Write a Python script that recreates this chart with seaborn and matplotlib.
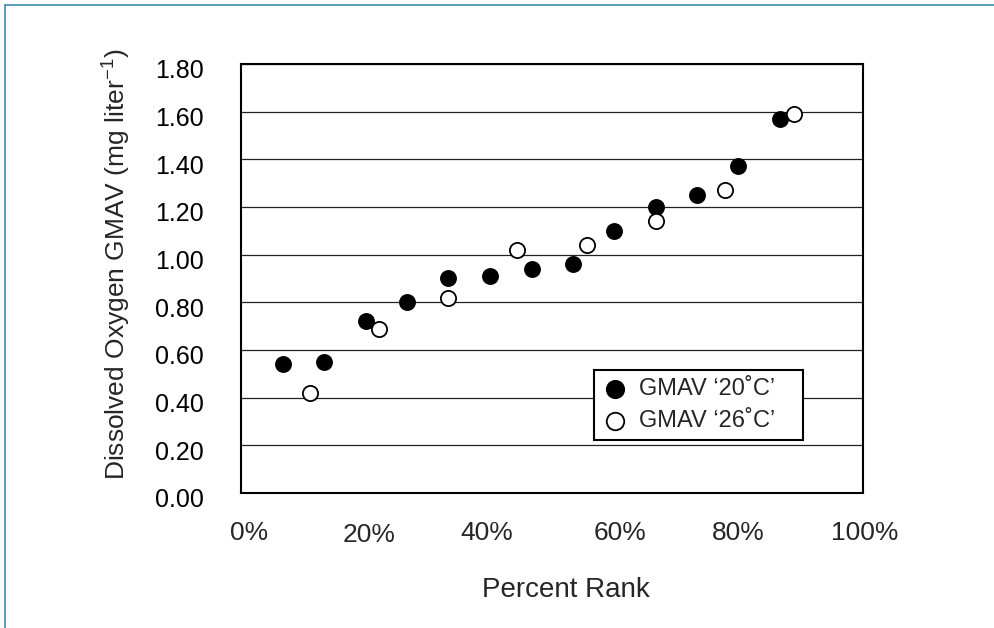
import matplotlib
matplotlib.use("Agg")
import matplotlib.pyplot as plt
import matplotlib.transforms as mtransforms
from matplotlib.lines import Line2D
import seaborn as sns
import pandas as pd

# percent rank (x) and GMAV (y)
rank_20 = [0.067, 0.133, 0.200, 0.267, 0.333, 0.400, 0.467, 0.533, 0.600, 0.667, 0.733, 0.800, 0.867]
gmav_20 = [0.54, 0.55, 0.72, 0.80, 0.90, 0.91, 0.94, 0.96, 1.10, 1.20, 1.25, 1.37, 1.57]
rank_26 = [0.111, 0.222, 0.333, 0.444, 0.556, 0.667, 0.778, 0.889]
gmav_26 = [0.42, 0.69, 0.82, 1.02, 1.04, 1.14, 1.27, 1.59]

label_20 = "GMAV \u201820\u02daC\u2019"
label_26 = "GMAV \u201826\u02daC\u2019"

x_ticks = [0.0, 0.2, 0.4, 0.6, 0.8, 1.0]
x_ticklabels = ["0%", "20%", "40%", "60%", "80%", "100%"]
y_ticks = [0.0, 0.2, 0.4, 0.6, 0.8, 1.0, 1.2, 1.4, 1.6, 1.8]

sns.set_style("white")
plt.rcParams["font.family"] = ["Liberation Sans", "DejaVu Sans"]
plt.rcParams["mathtext.fontset"] = "custom"
plt.rcParams["mathtext.rm"] = "Liberation Sans"
plt.rcParams["mathtext.it"] = "Liberation Sans:italic"

df20 = pd.DataFrame({"rank": rank_20, "gmav": gmav_20})
df26 = pd.DataFrame({"rank": rank_26, "gmav": gmav_26})

fig = plt.figure(figsize=(9.95, 6.28), dpi=100)
ax = fig.add_axes([0.2426, 0.215, 0.6244, 0.6831])

ax.grid(axis="y", color="#222222", lw=0.9)
ax.set_axisbelow(True)

sns.scatterplot(data=df20, x="rank", y="gmav", ax=ax, color="black",
                edgecolor="black", s=120, linewidth=1.2, label=label_20, zorder=3)
sns.scatterplot(data=df26, x="rank", y="gmav", ax=ax, color="white",
                edgecolor="black", s=120, linewidth=1.3, label=label_26, zorder=3)

ax.set_xlim(0, 1)
ax.set_ylim(0, 1.8)
ax.set_xticks(x_ticks)
ax.set_xticklabels(x_ticklabels, fontsize=19)
ax.set_yticks(y_ticks)
ax.set_yticklabels([f"{v:.2f}" for v in y_ticks], fontsize=18)

ax.tick_params(axis="x", length=0, pad=20)
ax.tick_params(axis="y", length=2.5, width=1, direction="out", pad=24.5, colors="black")

for sp in ax.spines.values():
    sp.set_visible(True)
    sp.set_color("black")
    sp.set_linewidth(1.5)

# nudge tick labels like the original
for lab in ax.get_yticklabels():
    lab.set_transform(lab.get_transform() + mtransforms.ScaledTranslation(0, -0.05, fig.dpi_scale_trans))
x_nudge = [(0.08, 0), (0.03, -0.02), (-0.03, 0), (0.06, 0), (0, 0), (0.02, 0)]
for lab, (dx, dy) in zip(ax.get_xticklabels(), x_nudge):
    lab.set_transform(lab.get_transform() + mtransforms.ScaledTranslation(dx, dy, fig.dpi_scale_trans))

ax.set_xlabel("Percent Rank", fontsize=20, va="center")
ax.xaxis.set_label_coords(0.5225, -0.226)
ax.set_ylabel(r"Dissolved Oxygen GMAV (mg liter$^{\mathrm{-1}}$)", fontsize=19, ha="center", va="center")
ax.yaxis.set_label_coords(-0.2, 0.534)

leg = ax.legend(loc="lower left", bbox_to_anchor=(0.5675, 0.1235, 0.337, 0.1865), mode="expand",
                fontsize=17, frameon=True, fancybox=False, framealpha=1, borderpad=0.35,
                handlelength=1.1, handletextpad=0.45, labelspacing=0.4, borderaxespad=0,
                markerscale=1.15)
leg.get_frame().set_edgecolor("black")
leg.get_frame().set_linewidth(1.5)

# thin border on the figure's top and left edges
fig.add_artist(Line2D([5 / 995, 1], [1 - 5 / 628, 1 - 5 / 628], transform=fig.transFigure, color="#3b8db0", lw=1.2))
fig.add_artist(Line2D([5 / 995, 5 / 995], [0, 1 - 5 / 628], transform=fig.transFigure, color="#3b8db0", lw=1.2))

fig.savefig("out.png", dpi=100)
